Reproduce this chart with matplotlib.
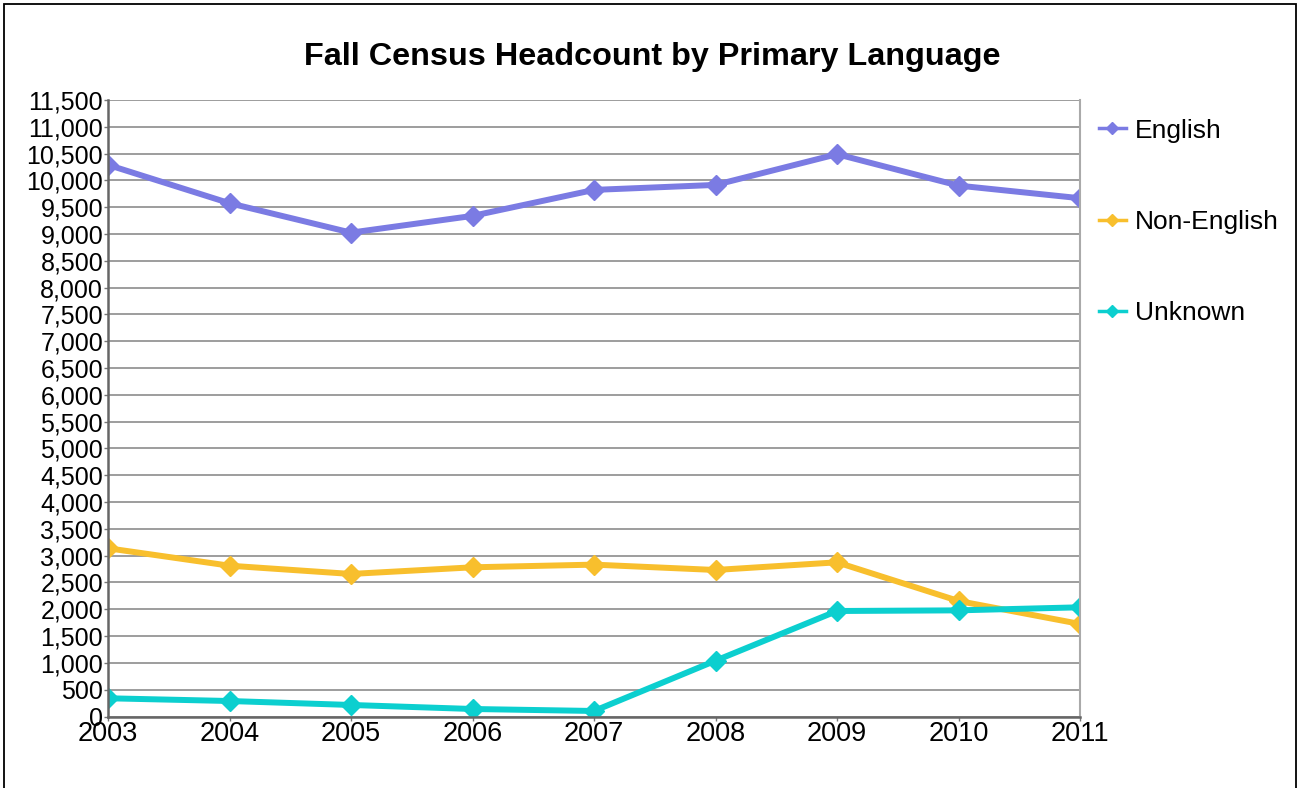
import matplotlib
matplotlib.use('Agg')
import matplotlib.pyplot as plt
from matplotlib.patches import Rectangle
from matplotlib.ticker import FuncFormatter

plt.rcParams['font.family'] = ['Liberation Sans', 'DejaVu Sans']

# 数据
years = [2003, 2004, 2005, 2006, 2007, 2008, 2009, 2010, 2011]
english = [10290, 9575, 9026, 9338, 9823, 9916, 10489, 9903, 9668]
non_english = [3138, 2813, 2659, 2783, 2833, 2733, 2876, 2155, 1726]
unknown = [340, 289, 215, 140, 103, 1041, 1968, 1980, 2037]

series = [
    ('English', english, '#7b7be3'),
    ('Non-English', non_english, '#f8bf2d'),
    ('Unknown', unknown, '#0ccfcf'),
]

fig = plt.figure(figsize=(12.99, 7.88), dpi=100)
ax = fig.add_axes([108 / 1299, 1 - 716.5 / 788, (1080 - 108) / 1299, (716.5 - 100) / 788])

for name, vals, col in series:
    ax.plot(years, vals, color=col, lw=4.3, marker='D', ms=10.5, label=name,
            solid_joinstyle='miter')

ax.set_xlim(2003, 2011)
ax.set_ylim(0, 11500)
ax.set_yticks(range(0, 11501, 500))
ax.set_xticks(years)
ax.yaxis.set_major_formatter(FuncFormatter(lambda v, p: f'{int(v):,}'))
ax.grid(axis='y', color='#8c8c8c', lw=1.2)
ax.set_axisbelow(True)
ax.tick_params(axis='y', labelsize=18, length=3, width=1, color='#777777', pad=0.5)
ax.tick_params(axis='x', labelsize=19.5, length=3, width=1, color='#777777', pad=0)
for s in ['left', 'bottom']:
    ax.spines[s].set_color('#666666')
    ax.spines[s].set_linewidth(1.8)
ax.spines['top'].set_visible(False)
ax.spines['right'].set_color('#aaaaaa')
ax.spines['right'].set_linewidth(1.5)

fig.text(0.502, 1 - 57 / 788, 'Fall Census Headcount by Primary Language',
         ha='center', va='center', fontsize=23.3, fontweight='bold')

leg = ax.legend(loc='upper left', bbox_to_anchor=(1.009, 0.987), frameon=False,
                fontsize=19, labelspacing=2.55, handlelength=1.0, handletextpad=0.35,
                markerscale=0.55, borderaxespad=0)
for h in leg.get_lines():
    h.set_linewidth(2.5)

# 外框
fig.patches.append(Rectangle((4 / 1299, -0.02), 1292 / 1299, 1 - 4 / 788 + 0.02,
                             transform=fig.transFigure, fill=False,
                             edgecolor='black', lw=1.3))

fig.savefig('out.png', dpi=100)
